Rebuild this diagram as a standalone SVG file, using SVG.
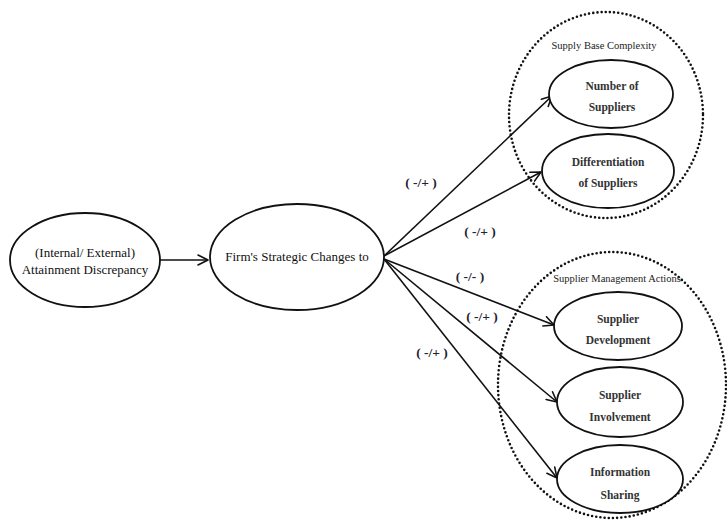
<svg xmlns="http://www.w3.org/2000/svg" width="727" height="522" viewBox="0 0 727 522">
  <defs>
    <marker id="open" viewBox="0 0 12 12" refX="11" refY="6" markerWidth="12" markerHeight="12" markerUnits="userSpaceOnUse" orient="auto">
      <path d="M1,1 L11,6 L1,11" fill="none" stroke="#111" stroke-width="1.6" stroke-linecap="round" stroke-linejoin="round"/>
    </marker>
    <style>
      .node { fill: #fff; stroke: #111; stroke-width: 1.8; }
      .group { fill: none; stroke: #111; stroke-width: 2.6; stroke-dasharray: 0 4.2; stroke-linecap: round; }
      .edge { fill: none; stroke: #111; stroke-width: 1.6; marker-end: url(#open); }
      .big { font-family: "Liberation Serif", "Times New Roman", serif; font-size: 13px; fill: #111; text-anchor: middle; }
      .small { font-family: "Liberation Serif", "Times New Roman", serif; font-size: 11.5px; fill: #333; text-anchor: middle; font-weight: bold; }
      .title { font-family: "Liberation Serif", "Times New Roman", serif; font-size: 10.5px; fill: #222; text-anchor: middle; }
      .sign { font-family: "Liberation Serif", "Times New Roman", serif; font-size: 13.5px; fill: #1e2233; text-anchor: middle; font-weight: bold; }
    </style>
  </defs>
  <rect width="727" height="522" fill="#fff"/>

  <!-- dotted construct boundaries -->
  <g id="supply-base-complexity">
    <ellipse class="group" cx="606" cy="115" rx="97" ry="103"/>
    <text class="title" x="604" y="49">Supply Base Complexity</text>
  </g>
  <g id="supplier-management-actions">
    <ellipse class="group" cx="612" cy="385" rx="114" ry="133"/>
    <text class="title" x="617" y="282">Supplier Management Actions</text>
  </g>

  <!-- connectors -->
  <g id="connectors">
    <line class="edge" x1="160" y1="260" x2="208" y2="260"/>
    <line class="edge" x1="384" y1="256" x2="552" y2="96"/>
    <line class="edge" x1="384" y1="256" x2="541" y2="172"/>
    <line class="edge" x1="384" y1="259" x2="554" y2="325"/>
    <line class="edge" x1="384" y1="259" x2="557" y2="402"/>
    <line class="edge" x1="384" y1="259" x2="557" y2="478"/>
    <text class="sign" x="421" y="187">( -/+ )</text>
    <text class="sign" x="480" y="236">( -/+ )</text>
    <text class="sign" x="470" y="281">( -/- )</text>
    <text class="sign" x="482" y="321">( -/+ )</text>
    <text class="sign" x="432" y="357">( -/+ )</text>
  </g>

  <g id="attainment-discrepancy">
    <ellipse class="node" cx="85" cy="260" rx="75" ry="47"/>
    <text class="big" x="85" y="257">(Internal/ External)</text>
    <text class="big" x="85" y="274">Attainment Discrepancy</text>
  </g>
  <g id="strategic-changes">
    <ellipse class="node" cx="297" cy="257" rx="87" ry="53"/>
    <text class="big" x="297" y="261">Firm's Strategic Changes to</text>
  </g>

  <g id="number-of-suppliers">
    <ellipse class="node" cx="611" cy="94" rx="62" ry="34"/>
    <text class="small" x="612" y="90">Number of</text>
    <text class="small" x="612" y="111">Suppliers</text>
  </g>
  <g id="differentiation-of-suppliers">
    <ellipse class="node" cx="608" cy="171" rx="66" ry="37"/>
    <text class="small" x="608" y="166">Differentiation</text>
    <text class="small" x="608" y="187">of Suppliers</text>
  </g>
  <g id="supplier-development">
    <ellipse class="node" cx="618" cy="326" rx="64" ry="34"/>
    <text class="small" x="618" y="323">Supplier</text>
    <text class="small" x="618" y="344">Development</text>
  </g>
  <g id="supplier-involvement">
    <ellipse class="node" cx="620" cy="402" rx="63" ry="35"/>
    <text class="small" x="620" y="399">Supplier</text>
    <text class="small" x="620" y="421">Involvement</text>
  </g>
  <g id="information-sharing">
    <ellipse class="node" cx="620" cy="479" rx="63" ry="34"/>
    <text class="small" x="620" y="476">Information</text>
    <text class="small" x="620" y="499">Sharing</text>
  </g>
</svg>
